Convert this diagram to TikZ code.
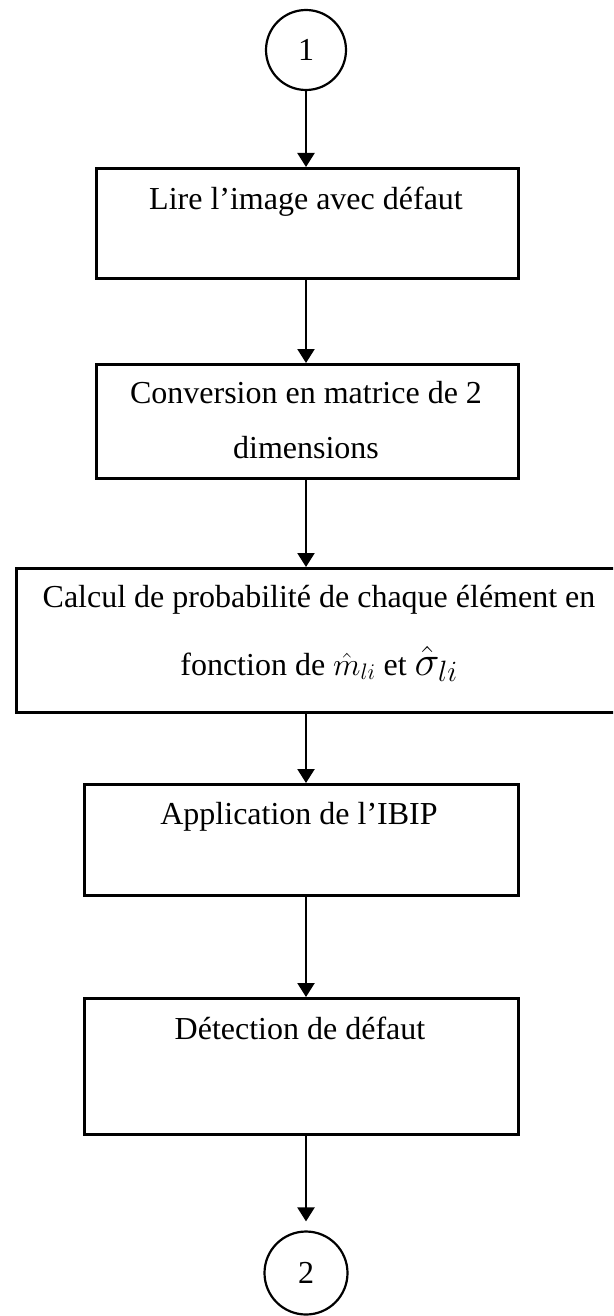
\RequirePackage{fix-cm}
\documentclass[tikz,border=0pt]{standalone}
\usepackage{fontspec}
\setmainfont{Liberation Serif}
\usetikzlibrary{arrows.meta}
\begin{document}
\begin{tikzpicture}[x=1pt,y=-1pt,
  stepbox/.style={draw, line width=2.6pt, inner sep=0pt, anchor=north west},
  connector/.style={draw, circle, line width=2.2pt, inner sep=0pt,
    font=\fontsize{32}{38}\selectfont},
  flow/.style={line width=2.3pt, -{Triangle[width=17pt,length=14pt]}},
  txt/.style={anchor=base, inner sep=0pt, font=\fontsize{32}{38}\selectfont}]
\useasboundingbox (0,0) rectangle (613,1316);
\clip (0,0) rectangle (613,1316);

% off-page connectors
\node[connector, minimum size=80pt] (c1) at (306,50) {1};
\node[connector, minimum size=83pt] (c2) at (306,1273) {2};

% process boxes
\node[stepbox, minimum width=422pt, minimum height=110pt] (b1) at (95,167) {};
\node[stepbox, minimum width=422pt, minimum height=114pt] (b2) at (95,363) {};
\node[stepbox, minimum width=610pt, minimum height=144pt] (b3) at (15,567) {};
\node[stepbox, minimum width=434pt, minimum height=111pt] (b4) at (83,783) {};
\node[stepbox, minimum width=434pt, minimum height=136pt] (b5) at (83,997) {};

% box texts
\node[txt] (t1) at (306,209) {Lire l’image avec défaut};
\node[txt] (t2a) at (306,403) {Conversion en matrice de 2};
\node[txt] (t2b) at (306,458) {dimensions};
\node[txt] (t3a) at (319,607) {Calcul de probabilité de chaque élément en};
\node[txt] (t3b) at (319,675) {fonction de $\hat{m}_{li}$ et
  {\fontsize{42}{42}\selectfont$\hat{\sigma}_{li}$}};
\node[txt] (t4) at (299,824) {Application de l’IBIP};
\node[txt] (t5) at (300,1039) {Détection de défaut};

% flow arrows
\draw[flow] (c1.south) -- (c1.south |- b1.north);
\draw[flow] (c1.south |- b1.south) -- (c1.south |- b2.north);
\draw[flow] (c1.south |- b2.south) -- (c1.south |- b3.north);
\draw[flow] (c1.south |- b3.south) -- (c1.south |- b4.north);
\draw[flow] (c1.south |- b4.south) -- (c1.south |- b5.north);
\draw[flow, shorten >=9pt] (c1.south |- b5.south) -- (c2.north);
\end{tikzpicture}
\end{document}
